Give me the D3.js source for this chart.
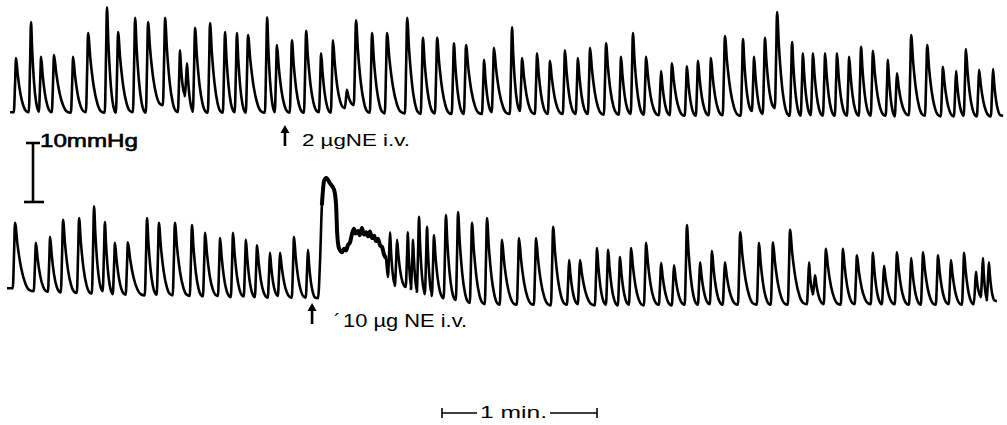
<!DOCTYPE html>
<html>
<head>
<meta charset="utf-8">
<script src="https://cdn.jsdelivr.net/npm/d3@7"></script>
<style>
  body { margin: 0; background: #fff; }
  svg text { font-family: "Liberation Sans", Arial, sans-serif; fill: #000; }
</style>
</head>
<body>
<div id="place"></div>
<script>
// temps en secondes, pression en mmHg (relative a la ligne de base)

// trace du haut : 2 ug NE
const topTimes = [6.2, 12.0, 15.9, 20.9, 28.3, 34.1, 41.4, 45.7, 52.3, 57.3, 63.9, 69.7, 72.4, 75.5, 81.3, 87.1, 91.7, 96.0,
  103.4, 107.2, 113.0, 118.5, 124.3, 128.9, 134.3, 137.8, 144.0, 149.8, 157.6, 163.7, 169.2, 175.7, 180.4, 187.4, 191.2,
  198.2, 202.1, 207.9, 212.9, 218.7, 223.7, 228.4, 234.6, 240.4, 245.0, 250.1, 255.9, 260.1, 265.9, 270.2, 275.2, 280.6,
  287.6, 291.9, 296.1, 300.8, 306.6, 310.8, 314.7, 319.4, 324.0, 328.7, 333.3, 337.9, 343.7, 347.2, 352.7, 358.9, 365.0,
  370.1, 373.9, 379.0, 384.4];
const topPeaks = [9.5, 15.6, 9.7, 10.0, 9.7, 13.7, 18.1, 13.9, 16.3, 15.6, 16.3, 10.8, 8.6, 14.6, 15.4, 13.9, 13.7, 13.4,
  16.4, 11.7, 12.5, 14.1, 10.3, 12.5, 4.1, 15.9, 13.7, 13.7, 16.3, 12.9, 12.9, 12.0, 11.7, 9.2, 11.2,
  14.7, 9.5, 10.3, 9.0, 10.8, 9.5, 11.2, 12.0, 9.7, 13.7, 9.7, 7.3, 8.6, 8.1, 9.0, 9.5, 13.2,
  12.7, 9.7, 12.9, 17.3, 12.2, 10.3, 10.3, 10.3, 10.3, 9.7, 11.4, 10.7, 9.2, 6.9, 13.4, 11.7, 8.0,
  7.3, 11.0, 7.5, 7.6];
const topTroughs = [0.3, 0.3, 0.4, 0.3, 0.2, 0.3, 0.2, 0.2, 0.3, 0.2, 1.5, 0.3, 3.0, 0.4, 0.2, 0.2, 0.3, 0.2,
  0.2, 0.3, 0.2, 0.2, 0.3, 0.2, 1.0, 1.5, 0.2, 0.1, 0.1, 0.0, 0.1, 0.0, 0.0, 0.0, 0.3,
  0.0, 0.5, 0.0, 0.0, 0.0, 0.0, 0.0, -0.1, -0.1, 0.0, -0.1, -0.2, -0.2, -0.3, -0.3, -0.2, -0.2,
  -0.3, 0.5, 0.0, 1.0, -0.3, -0.3, -0.2, -0.3, -0.3, -0.3, -0.3, -0.3, -0.3, -0.4, -0.2, -0.3, -0.4,
  -0.4, -0.3, -0.4, -0.4];
const topStart = [3.9, 0.3], topEnd = [388.3, -0.3];

// trace du bas : 10 ug NE
const botTimesPre = [5.8, 13.9, 19.4, 24.4, 30.6, 36.4, 40.6, 44.5, 49.5, 56.9, 61.5, 67.7, 74.3, 79.4, 85.2, 90.2, 95.2,
  99.5, 104.5, 108.4, 113.8, 119.2];
const botPeaksPre = [13.6, 10.2, 11.2, 14.1, 14.4, 16.4, 13.7, 10.2, 10.3, 14.4, 13.6, 13.6, 13.2, 11.9, 11.0, 11.9, 10.7,
  9.8, 8.5, 8.5, 11.2, 9.0];
const botTroughsPre = [2.5, 2.0, 1.9, 1.8, 1.7, 1.6, 2.0, 1.5, 1.4, 1.3, 1.4, 1.3, 1.2, 1.1, 1.2, 1.0, 1.1,
  1.0, 0.9, 1.2, 0.9, 0.9];
const botStart = [2.7, 2.5];

// reponse a la NE (montee, plateau, oscillations)
const neTimes = [123.1, 123.9, 124.6, 125.5, 126.3, 127.7, 129.3, 130.1, 130.5, 131.2, 132.4, 133.2, 133.9, 134.7, 135.5,
  136.2, 137.0, 137.6, 138.6, 139.3, 140.1, 140.9, 141.7, 142.5, 143.2, 144.0, 144.8, 145.5, 146.3, 147.1, 147.9, 148.6, 149.4];
const nePress = [0.8, 7.3, 16.6, 20.8, 21.2, 20.3, 19.2, 16.6, 12.0, 9.3, 8.6, 9.2, 8.9, 9.8, 10.3,
  11.6, 12.6, 11.8, 12.2, 11.5, 12.7, 11.6, 12.0, 11.3, 12.1, 11.0, 11.4, 10.5, 10.9, 9.8, 9.5, 8.3, 7.6];

const botTimesPost = [151.0, 153.7, 157.9, 159.9, 162.2, 165.3, 168.0, 172.6, 177.3, 182.7, 188.5, 194.3, 200.9, 207.5,
  214.1, 220.3, 224.5, 231.1, 235.4, 240.0, 244.3, 250.1, 255.9, 260.9, 265.9, 271.0, 275.6, 280.6, 286.5, 293.8,
  299.2, 305.8, 313.2, 315.5, 319.7, 326.3, 331.7, 337.9, 342.2, 347.2, 352.7, 357.3, 363.1, 368.1, 373.2, 377.8,
  380.5, 382.8];
const botPeaksPost = [12.0, 10.7, 12.0, 10.7, 14.6, 12.9, 11.5, 14.9, 15.4, 13.6, 14.4, 10.7, 11.0, 11.0,
  12.9, 7.3, 7.3, 9.3, 9.0, 7.8, 9.3, 10.2, 6.8, 6.4, 13.2, 6.9, 8.8, 6.9, 12.0, 10.2,
  10.3, 12.4, 6.9, 4.7, 9.2, 9.2, 8.1, 8.5, 6.3, 8.6, 7.6, 8.6, 8.1, 7.3, 8.5, 5.3,
  7.6, 6.9];
const botTroughsPost = [4.4, 2.9, 2.7, 2.4, 1.9, 1.5, 1.2, 0.8, 0.5, 0.0, -0.2, -0.3, -0.3, -0.3,
  -0.4, -0.3, -0.2, -0.4, -0.3, -0.4, -0.3, -0.4, -0.3, -0.4, -0.3, -0.3, -0.2, -0.3, -0.3, -0.3,
  -0.3, -0.3, -0.2, 1.5, -0.2, -0.3, -0.2, -0.2, -0.2, -0.2, -0.3, -0.3, -0.3, -0.2, -0.3, -0.2,
  1.0, 0.5];
const botEnd = [385.9, 0.3];

// injections et echelles
const injections = [
  { trace: "top", t: 110.3, label: "2 µgNE i.v." },
  { trace: "bot", t: 120.8, label: "10 µg NE  i.v." }
];
const scaleMmHg = 10, scaleLabel = "10mmHg";
const timeBarSec = [171.1, 231.1], timeLabel = "1 min.";

const W = 1007, H = 425;
const svg = d3.select("#place").append("svg").attr("width", W).attr("height", H);

const x = d3.scaleLinear().domain([0, 390]).range([0, 1007.5]);
const yTop = d3.scaleLinear().domain([0, 10]).range([114, 55]);
const yBot = d3.scaleLinear().domain([0, 10]).range([303, 244]);

// forme d'un battement : montee rapide, descente plus lente vers le creux suivant
function beats(times, peaks, troughs, end) {
  let pts = [];
  for (let i = 0; i < times.length; i++) {
    const T = times[i], P = peaks[i], B = troughs[i];
    const nextT = i < times.length - 1 ? times[i + 1] : end[0];
    const nb = i < times.length - 1 ? troughs[i + 1] : end[1];
    const d = nextT - T;
    pts.push([T - 0.85, B]);
    pts.push([T - 0.35, B + 0.55 * (P - B)]);
    pts.push([T, P]);
    pts.push([T + 0.12 * d, nb + 0.68 * (P - nb)]);
    pts.push([T + 0.3 * d, nb + 0.33 * (P - nb)]);
    pts.push([T + 0.5 * d, nb + 0.11 * (P - nb)]);
    pts.push([T + 0.68 * d, nb + 0.02 * (P - nb)]);
  }
  return pts;
}

const topPts = [topStart].concat(beats(topTimes, topPeaks, topTroughs, topEnd), [topEnd]);
const nePts = neTimes.map((t, i) => [t, nePress[i]]);
const botPts = [botStart].concat(
  beats(botTimesPre, botPeaksPre, botTroughsPre, nePts[0]),
  nePts,
  beats(botTimesPost, botPeaksPost, botTroughsPost, botEnd),
  [botEnd]);

const lineTop = d3.line().x(d => x(d[0])).y(d => yTop(d[1])).curve(d3.curveMonotoneX);
const lineBot = d3.line().x(d => x(d[0])).y(d => yBot(d[1])).curve(d3.curveMonotoneX);

svg.append("path").attr("d", lineTop(topPts))
  .attr("fill", "none").attr("stroke", "#000").attr("stroke-width", 2.6).attr("stroke-linejoin", "round");
svg.append("path").attr("d", lineBot(botPts))
  .attr("fill", "none").attr("stroke", "#000").attr("stroke-width", 2.6).attr("stroke-linejoin", "round");
// la reponse NE est plus epaisse sur l'enregistrement
svg.append("path").attr("d", lineBot(nePts.slice(2)))
  .attr("fill", "none").attr("stroke", "#000").attr("stroke-width", 4).attr("stroke-linejoin", "round");

// fleches d'injection
injections.forEach(inj => {
  const xi = x(inj.t);
  const y0 = inj.trace === "top" ? 125 : 303;
  const g = svg.append("g");
  g.append("line").attr("x1", xi).attr("x2", xi).attr("y1", y0 + 5).attr("y2", y0 + 21)
    .attr("stroke", "#000").attr("stroke-width", 2.6);
  g.append("path").attr("d", `M${xi},${y0} L${xi - 4.5},${y0 + 8} L${xi + 4.5},${y0 + 8} Z`).attr("fill", "#000");
  if (inj.trace === "top") {
    g.append("text").attr("x", xi + 17).attr("y", y0 + 21).attr("font-size", 17)
      .attr("textLength", 108).attr("lengthAdjust", "spacingAndGlyphs").text(inj.label);
  } else {
    g.append("text").attr("x", xi + 22).attr("y", y0 + 24).attr("font-size", 19).text("´");
    g.append("text").attr("x", xi + 31).attr("y", y0 + 24).attr("font-size", 19)
      .attr("textLength", 124).attr("lengthAdjust", "spacingAndGlyphs").text(inj.label);
  }
});

// barre d'echelle 10 mmHg
const yScaleBar = d3.scaleLinear().domain([0, scaleMmHg]).range([202, 143]);
const sb = svg.append("g").attr("stroke", "#000").attr("stroke-width", 2.6);
sb.append("line").attr("x1", 33).attr("x2", 33).attr("y1", yScaleBar(0)).attr("y2", yScaleBar(scaleMmHg));
sb.append("line").attr("x1", 26).attr("x2", 40).attr("y1", yScaleBar(scaleMmHg)).attr("y2", yScaleBar(scaleMmHg));
sb.append("line").attr("x1", 24).attr("x2", 44).attr("y1", yScaleBar(0)).attr("y2", yScaleBar(0));
svg.append("text").attr("x", 40).attr("y", 147).attr("font-size", 18)
  .attr("stroke", "#000").attr("stroke-width", 0.6)
  .attr("textLength", 98).attr("lengthAdjust", "spacingAndGlyphs").text(scaleLabel);

// barre de temps 1 min
const tx0 = x(timeBarSec[0]), tx1 = x(timeBarSec[1]);
const tb = svg.append("g").attr("stroke", "#000").attr("stroke-width", 1.6);
tb.append("line").attr("x1", tx0).attr("x2", tx0 + 35).attr("y1", 413).attr("y2", 413);
tb.append("line").attr("x1", tx1 - 47).attr("x2", tx1).attr("y1", 413).attr("y2", 413);
tb.append("line").attr("x1", tx0).attr("x2", tx0).attr("y1", 408).attr("y2", 418);
tb.append("line").attr("x1", tx1).attr("x2", tx1).attr("y1", 408).attr("y2", 418);
svg.append("text").attr("x", tx0 + 38).attr("y", 418).attr("font-size", 17)
  .attr("textLength", 67).attr("lengthAdjust", "spacingAndGlyphs").text(timeLabel);
</script>
</body>
</html>
